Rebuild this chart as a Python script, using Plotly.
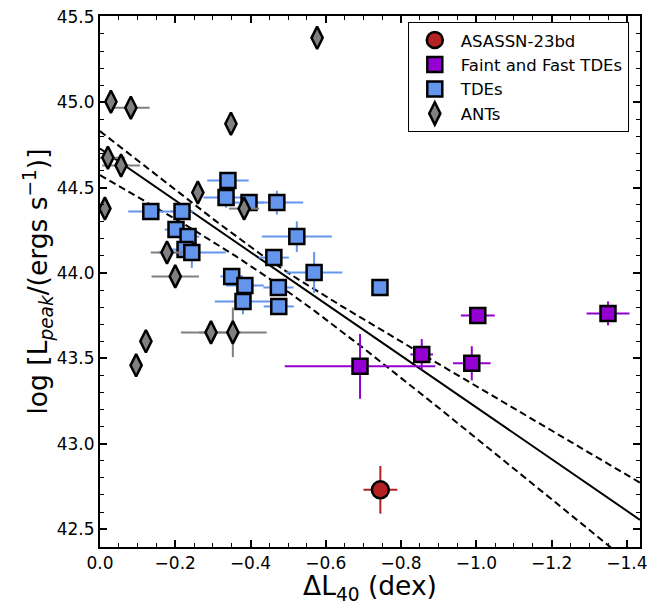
import numpy as np
import plotly.graph_objects as go

# ---------------- data ----------------
# ASASSN-23bd
asassn_x = [-0.745]
asassn_y = [42.73]
asassn_xerr = [0.045]
asassn_yerr = [0.14]

# Faint and Fast TDEs
ff_x = [-0.691, -0.855, -0.988, -1.004, -1.350]
ff_y = [43.453, 43.523, 43.471, 43.751, 43.763]
ff_xerr = [0.20, 0.03, 0.05, 0.045, 0.057]
ff_yerr = [0.19, 0.09, 0.10, 0.03, 0.07]

# TDEs
tde_x = [-0.340, -0.335, -0.396, -0.470, -0.135, -0.218, -0.202, -0.234, -0.523, -0.226,
         -0.244, -0.462, -0.569, -0.350, -0.385, -0.474, -0.380, -0.475, -0.744]
tde_y = [44.541, 44.442, 44.412, 44.412, 44.360, 44.360, 44.254, 44.213, 44.213, 44.137,
         44.120, 44.090, 44.003, 43.980, 43.927, 43.915, 43.833, 43.804, 43.915]
tde_xerr = [0.055, 0.06, 0.04, 0.07, 0.06, 0.03, 0.03, 0.03, 0.093, 0.04,
            0.09, 0.04, 0.075, 0.03, 0.05, 0.04, 0.075, 0.04, 0.0]
tde_yerr = [0.04, 0.06, 0.04, 0.07, 0.04, 0.03, 0.03, 0.04, 0.09, 0.03,
            0.09, 0.03, 0.12, 0.03, 0.03, 0.03, 0.075, 0.03, 0.0]

# ANTs
ant_x = [-0.577, -0.029, -0.082, -0.348, -0.021, -0.056, -0.260, -0.013, -0.383, -0.178,
         -0.200, -0.122, -0.096, -0.295, -0.353]
ant_y = [45.377, 45.003, 44.968, 44.874, 44.675, 44.629, 44.471, 44.377, 44.377, 44.120,
         43.980, 43.600, 43.459, 43.652, 43.652]
ant_xerr = [0.0, 0.01, 0.05, 0.0, 0.045, 0.05, 0.0, 0.0, 0.04, 0.043,
            0.063, 0.0, 0.0, 0.08, 0.09]
ant_yerr = [0.03, 0.03, 0.02, 0.03, 0.02, 0.02, 0.02, 0.02, 0.03, 0.02,
            0.02, 0.05, 0.05, 0.0, 0.145]

# best-fit relation and confidence band parameters
fit_intercept = 44.728
fit_slope = 1.515
band_center = -0.45
upper_a, upper_b = 0.0008, 0.048
lower_a, lower_b = 0.0062, 0.087

x_range = [0.0, -1.435]
y_range = [42.395, 45.505]
x_tickvals = [0.0, -0.2, -0.4, -0.6, -0.8, -1.0, -1.2, -1.4]
x_ticktext = ["0.0", "\u22120.2", "\u22120.4", "\u22120.6", "\u22120.8", "\u22121.0", "\u22121.2", "\u22121.4"]
y_tickvals = [42.5, 43.0, 43.5, 44.0, 44.5, 45.0, 45.5]
y_ticktext = ["42.5", "43.0", "43.5", "44.0", "44.5", "45.0", "45.5"]

# ---------------- figure ----------------
FONT = "DejaVu Sans"
fig = go.Figure()

xx = np.linspace(x_range[0], x_range[1], 300)
yfit = fit_intercept + fit_slope * xx
yup = yfit + np.sqrt(upper_a + upper_b * (xx - band_center) ** 2)
ylo = yfit - np.sqrt(lower_a + lower_b * (xx - band_center) ** 2)

fig.add_trace(go.Scatter(x=xx, y=yfit, mode="lines", line=dict(color="black", width=2),
                         showlegend=False, hoverinfo="skip"))
for yy in (yup, ylo):
    fig.add_trace(go.Scatter(x=xx, y=yy, mode="lines",
                             line=dict(color="black", width=2, dash="7px,4px"),
                             showlegend=False, hoverinfo="skip"))

def add_series(name, x, y, xerr, yerr, color, symbol, size):
    fig.add_trace(go.Scatter(
        x=x, y=y, mode="markers", name=name,
        marker=dict(symbol=symbol, size=size, color=color,
                    line=dict(color="black", width=2.5)),
        error_x=dict(type="data", array=xerr, color=color, thickness=2, width=0),
        error_y=dict(type="data", array=yerr, color=color, thickness=2, width=0),
    ))

add_series("ASASSN-23bd", asassn_x, asassn_y, asassn_xerr, asassn_yerr, "#b22222", "circle", 17)
add_series("Faint and Fast TDEs", ff_x, ff_y, ff_xerr, ff_yerr, "#9400d3", "square", 15)
add_series("TDEs", tde_x, tde_y, tde_xerr, tde_yerr, "#6495ed", "square", 15)
add_series("ANTs", ant_x, ant_y, ant_xerr, ant_yerr, "#808080", "diamond-tall", 16)

axis_common = dict(
    showline=True, linewidth=2, linecolor="black", mirror="allticks",
    ticks="inside", ticklen=7, tickwidth=1.5, tickcolor="black",
    showgrid=False, zeroline=False, ticklabeloverflow="allow",
    tickfont=dict(family=FONT, size=17, color="black"),
)

fig.update_xaxes(
    range=x_range, tickvals=x_tickvals, ticktext=x_ticktext,
    minor=dict(dtick=0.05, tick0=0, ticks="inside", ticklen=4, tickwidth=1.2, tickcolor="black"),
    title=dict(text="\u0394L<sub>40</sub> (dex)", font=dict(family=FONT, size=26.5, color="black"), standoff=4),
    **axis_common,
)
fig.update_yaxes(
    range=y_range, tickvals=y_tickvals, ticktext=y_ticktext,
    minor=dict(dtick=0.1, tick0=42.5, ticks="inside", ticklen=4, tickwidth=1.2, tickcolor="black"),
    title=dict(text="log [L<sub><i>peak</i></sub>/(ergs s<sup>\u22121</sup>)]",
               font=dict(family=FONT, size=26.5, color="black"), standoff=1),
    **axis_common,
)

# the page body adds an 8px offset, so the figure is sized to fit the 665x605 window
fig.update_layout(
    width=657, height=597,
    margin=dict(l=92, r=25, t=8, b=58, autoexpand=False),
    paper_bgcolor="white", plot_bgcolor="white",
    font=dict(family=FONT, color="black"),
    legend=dict(x=0.57, y=0.989, xanchor="left", yanchor="top",
                bordercolor="black", borderwidth=1, bgcolor="white",
                font=dict(family=FONT, size=16.5, color="black"),
                traceorder="normal", tracegroupgap=0, itemwidth=42),
)

fig.write_html("out.html")
